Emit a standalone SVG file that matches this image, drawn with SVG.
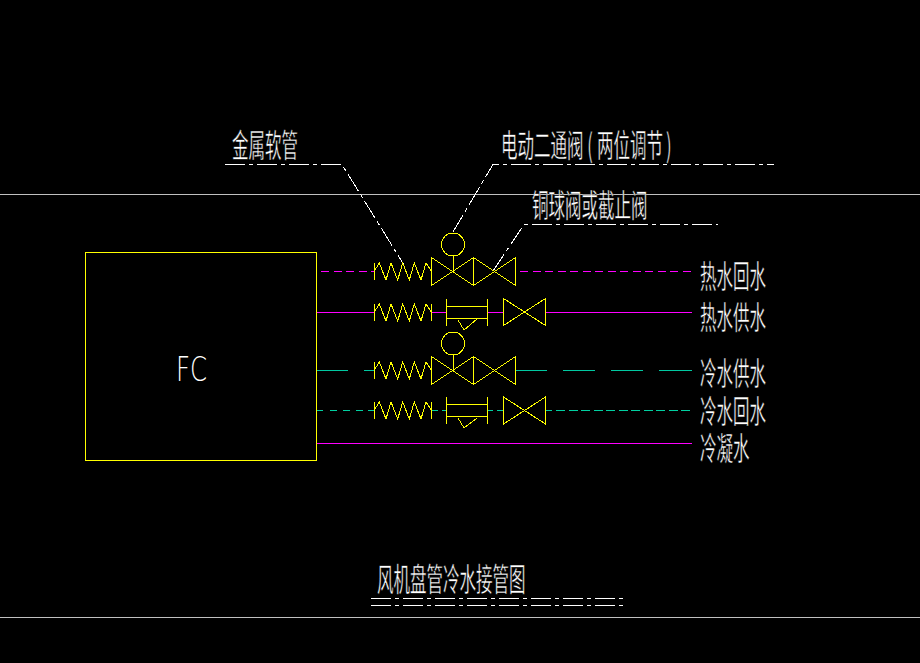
<svg xmlns="http://www.w3.org/2000/svg" width="920" height="663" viewBox="0 0 920 663">
<style>
.y{fill:none;stroke:#ffff00;stroke-width:1;shape-rendering:crispEdges}
.ln{fill:none;stroke-width:1;shape-rendering:crispEdges}
.g{stroke:#c0c0c0}
.m{stroke:#ff00ff}
.t{stroke:#00c8a0}
.n{stroke:#00d0a0}
.ld{fill:none;stroke:#fff;stroke-width:1;stroke-dasharray:20 4 4 4;shape-rendering:crispEdges}
.lbl{fill:#fff;stroke:#000;stroke-width:.5;font-family:"Noto Sans CJK SC","Liberation Sans",sans-serif;font-size:32px}
</style>
<defs>
<g id="coil"><path class="y" d="M374 -8.500V8.500M374 0L379.300 -8.500L386 8.500L391 -8.500L397.700 8.500L402.700 -8.500L409.300 8.500L414.300 -8.500L421 8.500L426 -8.500L431.700 0M431.700 -8.500V8.500"/></g>
<g id="valve"><path class="y" d="M0 -13.500V13.500L42 -13.500V13.500Z"/></g>
<g id="dbl"><path class="y" d="M431.500 -14V14L473.500 -14V14ZM473.500 -14L515.500 14V-14L473.500 14M453 0V-16"/><circle class="y" cx="453" cy="-27" r="11.500"/></g>
<g id="box"><path class="y" d="M446.500 -14V13.500M487.500 -14V13.500M446.500 -6H487.500M446.500 6H487.500"/></g>
</defs>
<rect width="920" height="663" fill="#000"/>
<g id="frame"><path class="ln g" d="M0 194.500H920M0 617.500H920"/></g>
<g id="connectors">
<path class="ln m" stroke-dasharray="8 4.500" d="M321 271.500H374M520 271.500H692"/>
<path class="ln m" d="M317 312.500H374M431 312.500H446M487 312.500H503M545 312.500H692"/>
<path class="ln t" d="M317 370.500H348M364 370.500H374M516 370.500H547M563 370.500H595M611 370.500H643M659 370.500H692"/>
<path class="ln n" d="M317 410.500H323M330 410.500H337M343 410.500H350M356 410.500H363M368 410.500H374M432 410.500H438M442 410.500H446M488 410.500H493M497 410.500H503M546 410.500H552"/>
<path class="ln n" stroke-dasharray="9 3.500" d="M556 410.500H690"/>
<path class="ln m" d="M317 443.500H692"/>
<path class="ld" d="M225 164.500H342L404 265"/>
<path class="ld" d="M453 232L493 164.500H774"/>
<path class="ld" d="M493 271L524 224.500H718"/>
</g>
<g id="fc"><rect class="y" x="85.500" y="252.500" width="231" height="208"/>
<text transform="translate(176 381) scale(.72 1)" fill="#fff" font-family="DejaVu Sans,sans-serif" font-weight="200" font-size="34">FC</text></g>
<g id="row1"><use href="#coil" y="271.500"/><use href="#dbl" y="271.500"/></g>
<g id="row2"><use href="#coil" y="312.500"/><use href="#box" y="312.500"/><path class="y" d="M458 320L464 330L477 319"/><use href="#valve" x="503.500" y="312"/></g>
<g id="row3"><use href="#coil" y="370.500"/><use href="#dbl" y="370.500"/></g>
<g id="row4"><use href="#coil" y="410.500"/><use href="#box" y="410.500"/><path class="y" d="M458 418L464 428L477 418"/><use href="#valve" x="503.500" y="410.500"/></g>
<g id="labels">
<text class="lbl" transform="translate(232 157) scale(.516 1)">金属软管</text>
<text class="lbl" transform="translate(501 156.500) scale(.516 1)">电动二通阀<tspan x="167">(</tspan><tspan x="186">两位调节</tspan><tspan x="320">)</tspan></text>
<text class="lbl" transform="translate(532 217) scale(.516 1)">铜球阀或截止阀</text>
<text class="lbl" transform="translate(700 288) scale(.516 1)">热水回水</text>
<text class="lbl" transform="translate(700 328.500) scale(.516 1)">热水供水</text>
<text class="lbl" transform="translate(700 385) scale(.516 1)">冷水供水</text>
<text class="lbl" transform="translate(700 423) scale(.516 1)">冷水回水</text>
<text class="lbl" transform="translate(700 460) scale(.516 1)">冷凝水</text>
<text class="lbl" transform="translate(377 591) scale(.516 1)">风机盘管冷水接管图</text>
</g>
<g id="underline"><path class="ln" stroke="#fff" stroke-dasharray="20 4 4 4" d="M371 598.500H623M371 605.500H623"/></g>
</svg>
